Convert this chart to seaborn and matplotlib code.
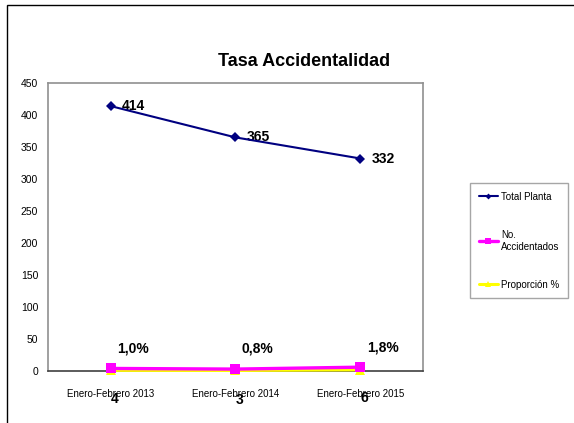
import pandas as pd
import seaborn as sns
import matplotlib.pyplot as plt
from matplotlib.patches import Rectangle

# Data
periodos = ['Enero-Febrero 2013', 'Enero-Febrero 2014', 'Enero-Febrero 2015']
total_planta = [414, 365, 332]
accidentados = [4, 3, 6]
proporcion = [1.0, 0.8, 1.8]
proporcion_txt = ['1,0%', '0,8%', '1,8%']

df = pd.DataFrame({'Periodo': periodos, 'Total Planta': total_planta,
                   'No.\nAccidentados': accidentados, 'Proporción %': proporcion})

sns.set_style('white')
plt.rcParams['font.family'] = ['Liberation Sans Narrow', 'Liberation Sans', 'DejaVu Sans']
plt.rcParams['text.color'] = 'black'
plt.rcParams['xtick.color'] = 'black'
plt.rcParams['ytick.color'] = 'black'

fig = plt.figure(figsize=(5.74, 4.23), dpi=100)
ax = fig.add_axes([48 / 574, 1 - 371 / 423, 375 / 574, 288 / 423])

# series: (column, colour, marker, line width, marker size, zorder)
series = [('Total Planta', '#000080', 'D', 1.5, 5, 4),
          ('Proporción %', '#FFFF00', '^', 2.2, 6.5, 3),
          ('No.\nAccidentados', '#FF00FF', 's', 2.4, 6.5, 4)]
for col, color, mk, lw, ms, z in series:
    sns.lineplot(data=df, x='Periodo', y=col, color=color, marker=mk, linewidth=lw,
                 markersize=ms, markeredgewidth=0, sort=False, label=col, ax=ax,
                 clip_on=False, zorder=z)

# data labels
for i, v in enumerate(total_planta):
    ax.annotate(str(v), (i, v), xytext=(8, 0), textcoords='offset points',
                ha='left', va='center', fontsize=10, fontweight='bold')
for i, v in enumerate(accidentados):
    ax.annotate(str(v), (i, v), xytext=(3, -22), textcoords='offset points',
                ha='center', va='center', fontsize=10, fontweight='bold',
                annotation_clip=False)
for i, (v, t) in enumerate(zip(proporcion, proporcion_txt)):
    ax.annotate(t, (i, v), xytext=(16, 16), textcoords='offset points',
                ha='center', va='center', fontsize=10, fontweight='bold')

ax.set_xlim(-0.5, 2.5)
ax.set_ylim(0, 450)
ax.set_yticks(range(0, 451, 50))
ax.set_xticks(range(3))
ax.set_xticklabels(periodos)
ax.set_xticks([-0.5, 0.5, 1.5, 2.5], minor=True)
ax.tick_params(axis='x', which='major', length=0, pad=13, labelsize=7)
ax.tick_params(axis='x', which='minor', length=4, direction='out', color='#606060')
ax.tick_params(axis='y', length=4, direction='out', color='#606060', labelsize=7.5, pad=3)
ax.set_xlabel('')
ax.set_ylabel('')
for s in ['top', 'right', 'left']:
    ax.spines[s].set_color('#909090')
    ax.spines[s].set_linewidth(1.2)
ax.spines['bottom'].set_color('#404040')
ax.spines['bottom'].set_linewidth(1.2)
ax.spines['bottom'].set_zorder(2.5)

fig.text(304 / 574, 1 - 62 / 423, 'Tasa Accidentalidad', ha='center', va='center',
         fontsize=13, fontweight='bold')

handles, labels = ax.get_legend_handles_labels()
order = [0, 2, 1]
leg = fig.legend([handles[k] for k in order], [labels[k] for k in order], loc='upper left',
                 bbox_to_anchor=(470 / 574, 1 - 183 / 423),
                 frameon=True, fancybox=False, fontsize=7.0, handlelength=2.0,
                 handletextpad=0.3, labelspacing=2.9, borderpad=0.9, borderaxespad=0,
                 markerscale=0.6)
leg.get_frame().set_edgecolor('#909090')
leg.get_frame().set_linewidth(1.0)
ax.get_legend().remove()

# outer chart frame
fig.patches.append(Rectangle((7 / 574, -0.1), 1.2, 1 - 5 / 423 + 0.1, transform=fig.transFigure,
                             fill=False, edgecolor='black', linewidth=1, clip_on=False))

fig.savefig('out.png', dpi=100)
